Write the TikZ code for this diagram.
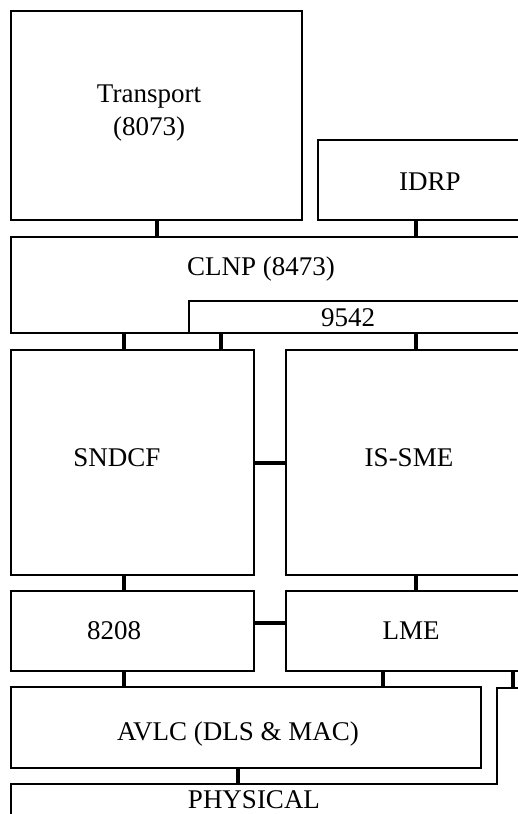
\documentclass[tikz,border=0pt]{standalone}
\usepackage{fontspec}
\setmainfont{Liberation Serif}
\usepackage{tikz}
\usetikzlibrary{positioning, calc}

\begin{document}
\begin{tikzpicture}[x=1pt, y=-1pt,
        box/.style={rectangle, draw=black, line width=2pt, inner sep=0pt, outer sep=0pt, anchor=north west},
        lbl/.style={inner sep=0pt, align=center, font=\fontsize{27}{33}\selectfont},
        link/.style={draw=black, line width=4pt}]
        \clip (0,0) rectangle (518,814);

        % Upper layers
        \node [box, minimum width=291pt, minimum height=209pt] (transport) at (11,11) {};
        \node [box, minimum width=227pt, minimum height=80pt] (idrp) at (318,140) {};
        \node [box, minimum width=534pt, minimum height=96pt] (clnp) at (11,237) {};
        \node [box, minimum width=356pt, minimum height=32pt] (iso9542) at (189,301) {};

        % Middle layers
        \node [box, minimum width=243pt, minimum height=225pt] (sndcf) at (11,350) {};
        \node [box, minimum width=259pt, minimum height=225pt] (issme) at (286,350) {};
        \node [box, minimum width=243pt, minimum height=80pt] (iso8208) at (11,591) {};
        \node [box, minimum width=259pt, minimum height=80pt] (lme) at (286,591) {};

        % Lower layers
        \node [box, minimum width=470pt, minimum height=81pt] (avlc) at (11,687) {};
        \coordinate (phystop) at (0,784);
        \coordinate (phystab) at (0,688);
        \draw [line width=2pt] (11,840) |- (497,784) |- (545,688) -- (545,840);

        % Texts
        \node [lbl] (transporttxt) at (149,113) {Transport\\(8073)};
        \node [lbl] (idrptxt) at (430,182) {IDRP};
        \node [lbl] (clnptxt) at (261,269) {CLNP (8473)};
        \node [lbl] (iso9542txt) at (348,318) {9542};
        \node [lbl] (sndcftxt) at (117,458) {SNDCF};
        \node [lbl] (issmetxt) at (409,458) {IS-SME};
        \node [lbl] (iso8208txt) at (114,631) {8208};
        \node [lbl] (lmetxt) at (411,631) {LME};
        \node [lbl] (avlctxt) at (238,734) {AVLC (DLS \& MAC)};
        \node [lbl] (physical) at (254,800) {PHYSICAL};

        % Connector columns
        \coordinate (cA) at (124,0);
        \coordinate (cB) at (157,0);
        \coordinate (cC) at (221,0);
        \coordinate (cD) at (238,0);
        \coordinate (cE) at (383,0);
        \coordinate (cF) at (416,0);
        \coordinate (cG) at (513,0);
        \coordinate (rowA) at (0,623);

        % Connections
        \path [link] (transport.south -| cB) -- (clnp.north -| cB);
        \path [link] (idrp.south -| cF) -- (clnp.north -| cF);
        \path [link] (clnp.south -| cA) -- (sndcf.north -| cA);
        \path [link] (iso9542.south -| cC) -- (sndcf.north -| cC);
        \path [link] (iso9542.south -| cF) -- (issme.north -| cF);
        \path [link] (sndcf.east) -- (issme.west);
        \path [link] (sndcf.south -| cA) -- (iso8208.north -| cA);
        \path [link] (issme.south -| cF) -- (lme.north -| cF);
        \path [link] (iso8208.east |- rowA) -- (lme.west |- rowA);
        \path [link] (iso8208.south -| cA) -- (avlc.north -| cA);
        \path [link] (lme.south -| cE) -- (avlc.north -| cE);
        \path [link] (lme.south -| cG) -- (phystab -| cG);
        \path [link] (avlc.south -| cD) -- (phystop -| cD);
    \end{tikzpicture}
\end{document}
